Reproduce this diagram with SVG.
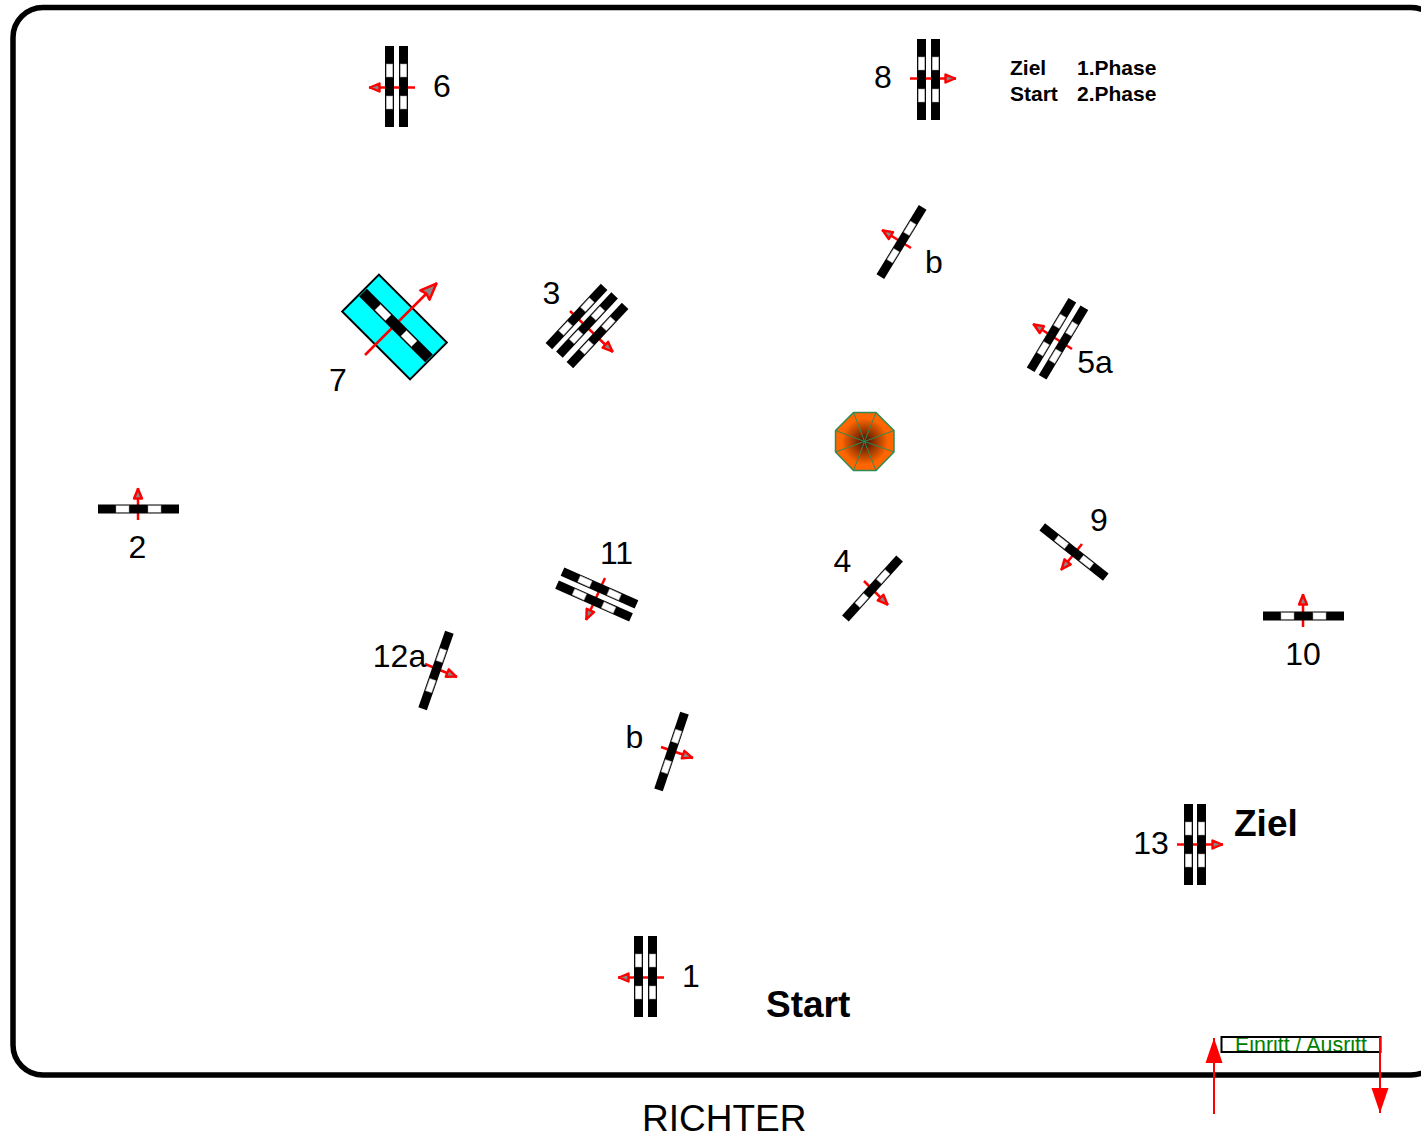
<svg xmlns="http://www.w3.org/2000/svg" width="1421" height="1134" viewBox="0 0 1421 1134">
<style>
text{font-family:"Liberation Sans",Arial,sans-serif;fill:#000}
.n{font-size:32px;text-anchor:middle}
.b{font-weight:bold}
.a{stroke:#f00;stroke-width:2.500;fill:none;marker-end:url(#h)}
</style>
<defs>
<g id="bar"><rect x="-40.500" y="-4.500" width="81" height="9" fill="#000"/><rect x="-22.500" y="-3.300" width="13" height="6.600" fill="#fff" stroke="#999" stroke-width=".5"/><rect x="9.500" y="-3.300" width="13" height="6.600" fill="#fff" stroke="#999" stroke-width=".5"/></g>
<marker id="h" markerUnits="userSpaceOnUse" markerWidth="16" markerHeight="14" refX="14" refY="7" orient="auto"><path d="M13 7L3.500 3L3.500 11Z" fill="#888" stroke="#f00" stroke-width="2.400" stroke-linejoin="round"/></marker>
<marker id="h7" markerUnits="userSpaceOnUse" markerWidth="24" markerHeight="20" refX="21" refY="10" orient="auto"><path d="M20 10L4 3.500L6 10L4 16.500Z" fill="#888" stroke="#f00" stroke-width="2.500" stroke-linejoin="round"/></marker>
<marker id="big" markerUnits="userSpaceOnUse" markerWidth="28" markerHeight="20" refX="26" refY="10" orient="auto"><path d="M26 10L1 1.500L1 18.500Z" fill="#f00"/></marker>
<radialGradient id="og"><stop offset="0" stop-color="#4a1600"/><stop offset=".2" stop-color="#6e2400"/><stop offset=".8" stop-color="#ff6600"/><stop offset="1" stop-color="#ff6600"/></radialGradient>
</defs>
<rect id="frame" x="13" y="7.500" width="1428" height="1067.500" rx="30" fill="none" stroke="#000" stroke-width="5.500"/>
<rect id="gate-7-pad" x="-48" y="-26" width="96" height="52" transform="translate(394.500 327) rotate(45)" fill="#0ff" stroke="#000" stroke-width="2"/>
<g id="connectors">
<line class="a" x1="415" y1="87.500" x2="369" y2="87.500"/>
<line class="a" x1="910" y1="78.500" x2="956" y2="78.500"/>
<line class="a" x1="664" y1="977.500" x2="618" y2="977.500"/>
<line class="a" x1="1177" y1="844.500" x2="1223" y2="844.500"/>
<line class="a" x1="138" y1="520" x2="138" y2="488"/>
<line class="a" x1="1303" y1="627" x2="1303" y2="594"/>
<line class="a" x1="365" y1="355" x2="437" y2="283" style="marker-end:url(#h7)"/>
<line class="a" x1="570" y1="311" x2="613" y2="352"/>
<line class="a" x1="911" y1="248" x2="882" y2="230"/>
<line class="a" x1="1072" y1="349" x2="1033" y2="324"/>
<line class="a" x1="1082" y1="544" x2="1061" y2="570"/>
<line class="a" x1="864" y1="581" x2="888" y2="605"/>
<line class="a" x1="605" y1="578" x2="586" y2="620"/>
<line class="a" x1="425" y1="664" x2="457" y2="677"/>
<line class="a" x1="661" y1="747" x2="693" y2="758"/>
</g>
<g id="gate-6"><use href="#bar" transform="translate(389.500 86.500) rotate(90)"/><use href="#bar" transform="translate(403.500 86.500) rotate(90)"/><text class="n" x="442" y="97">6</text></g>
<g id="gate-8"><use href="#bar" transform="translate(921.500 79.500) rotate(90)"/><use href="#bar" transform="translate(935.500 79.500) rotate(90)"/><text class="n" x="883" y="88">8</text></g>
<g id="gate-1"><use href="#bar" transform="translate(638.500 976.500) rotate(90)"/><use href="#bar" transform="translate(652.500 976.500) rotate(90)"/><text class="n" x="691" y="987">1</text></g>
<g id="gate-13"><use href="#bar" transform="translate(1188.500 844.500) rotate(90)"/><use href="#bar" transform="translate(1201.500 844.500) rotate(90)"/><text class="n" x="1151" y="854">13</text></g>
<g id="gate-2"><use href="#bar" transform="translate(138.500 509)"/><text class="n" x="137.500" y="558">2</text></g>
<g id="gate-10"><use href="#bar" transform="translate(1303.500 616)"/><text class="n" x="1303" y="665">10</text></g>
<g id="gate-7"><use href="#bar" transform="translate(396 325.500) rotate(45) scale(1.150 1.200)"/><text class="n" x="338" y="391">7</text></g>
<g id="gate-3"><use href="#bar" transform="translate(576.500 316.500) rotate(-47)"/><use href="#bar" transform="translate(587 325) rotate(-47)"/><use href="#bar" transform="translate(597.500 335.500) rotate(-47)"/><text class="n" x="551.500" y="304">3</text></g>
<g id="gate-b-top"><use href="#bar" transform="translate(901.500 242) rotate(-58.500)"/><text class="n" x="934" y="273">b</text></g>
<g id="gate-5a"><use href="#bar" transform="translate(1051.500 335) rotate(-59)"/><use href="#bar" transform="translate(1063.500 342.500) rotate(-59)"/><text class="n" x="1095" y="373">5a</text></g>
<g id="gate-9"><use href="#bar" transform="translate(1074 552) rotate(38.300)"/><text class="n" x="1099" y="531">9</text></g>
<g id="gate-4"><use href="#bar" transform="translate(872.500 588.500) rotate(-48)"/><text class="n" x="842.500" y="572">4</text></g>
<g id="gate-11"><use href="#bar" transform="translate(599.500 588) rotate(24)"/><use href="#bar" transform="translate(594 601) rotate(24)"/><text class="n" x="616.500" y="564">11</text></g>
<g id="gate-12a"><use href="#bar" transform="translate(436 670.500) rotate(-70.700)"/><text class="n" x="399.500" y="667">12a</text></g>
<g id="gate-b-bottom"><use href="#bar" transform="translate(671.500 751.500) rotate(-71.300)"/><text class="n" x="634.500" y="748">b</text></g>
<g id="octagon">
<polygon points="853.500,412.500 876,412.500 894,430.500 894,452 876,470.500 853.500,470.500 835.500,452 835.500,430.500" fill="url(#og)" stroke="#2e8b57" stroke-width="1.500"/>
<path d="M864.500 441.500L853.500 412.500M864.500 441.500L876 412.500M864.500 441.500L894 430.500M864.500 441.500L894 452M864.500 441.500L876 470.500M864.500 441.500L853.500 470.500M864.500 441.500L835.500 452M864.500 441.500L835.500 430.500" stroke="#2e8b57" stroke-width="1" fill="none"/>
</g>
<g id="labels">
<text class="b" x="1010" y="75" font-size="21">Ziel</text>
<text class="b" x="1077" y="75" font-size="21">1.Phase</text>
<text class="b" x="1010" y="101" font-size="21">Start</text>
<text class="b" x="1077" y="101" font-size="21">2.Phase</text>
<text class="b" x="1234" y="836" font-size="37">Ziel</text>
<text class="b" x="766" y="1017" font-size="37">Start</text>
<text x="642" y="1131" font-size="37">RICHTER</text>
</g>
<g id="entry">
<rect x="1221.500" y="1037" width="159" height="15" fill="#fff"/>
<text x="1235" y="1052" font-size="21.400" style="fill:#008000">Einritt / Ausritt</text>
<rect x="1221.500" y="1037" width="159" height="15" fill="none" stroke="#000" stroke-width="2"/>
<line x1="1214" y1="1114" x2="1214" y2="1038" stroke="#f00" stroke-width="2" marker-end="url(#big)"/>
<line x1="1380" y1="1037" x2="1380" y2="1113" stroke="#f00" stroke-width="2" marker-end="url(#big)"/>
</g>
</svg>
